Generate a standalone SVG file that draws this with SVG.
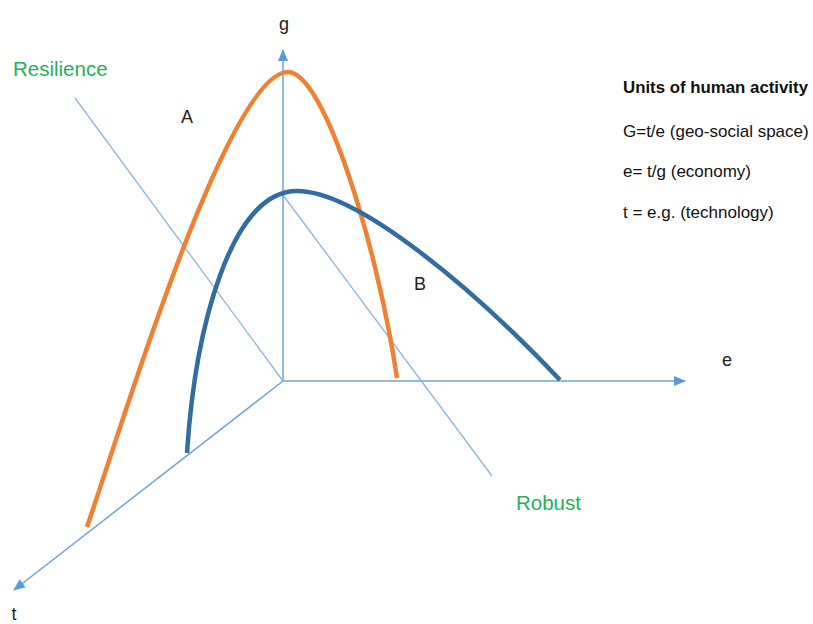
<svg xmlns="http://www.w3.org/2000/svg" width="813" height="624" viewBox="0 0 813 624">
<style>
.ax{stroke:#6fa3d8;stroke-width:1.5;fill:none}
.thin{stroke:#8db5e0;stroke-width:1.3;fill:none}
.lbl{font-family:"Liberation Sans",Arial,sans-serif;font-size:18px;fill:#222}
.grn{font-family:"Liberation Sans",Arial,sans-serif;font-size:20.5px;fill:#1fb25a}
.note{font-family:"Liberation Sans",Arial,sans-serif;font-size:17px;fill:#111}
.curveA{stroke:#ee8133;stroke-width:4.5;fill:none}
.curveB{stroke:#336ca3;stroke-width:4.5;fill:none}
</style>
<defs>
<marker id="arr" viewBox="0 0 12 10" refX="11" refY="5" markerWidth="12" markerHeight="10" markerUnits="userSpaceOnUse" orient="auto">
<path d="M0,0 L12,5 L0,10 Z" fill="#5b9bd5"/>
</marker>
</defs>
<g id="connectors">
<line class="ax" x1="283" y1="381" x2="283" y2="50" marker-end="url(#arr)"/>
<line class="ax" x1="283" y1="381" x2="685" y2="381" marker-end="url(#arr)"/>
<line class="ax" x1="283" y1="381" x2="14" y2="590" marker-end="url(#arr)"/>
<line class="thin" x1="75" y1="98" x2="283" y2="381"/>
<line class="thin" x1="283" y1="195" x2="492" y2="476"/>
</g>
<g id="curveA">
<path class="curveA" d="M87,527 C130,400 230,72 288,72 C325,72 378,250 397,378"/>
<text class="lbl" x="187" y="123" text-anchor="middle">A</text>
</g>
<g id="curveB">
<path class="curveB" d="M187,453 C195,330 230,191 297,191 C358,191 475,290 560,380"/>
<text class="lbl" x="420" y="290" text-anchor="middle">B</text>
</g>
<g id="axis-labels">
<text class="lbl" x="284" y="30" text-anchor="middle">g</text>
<text class="lbl" x="727" y="366" text-anchor="middle">e</text>
<text class="lbl" x="14" y="620" text-anchor="middle">t</text>
</g>
<g id="resilience"><text class="grn" x="13" y="76">Resilience</text></g>
<g id="robust"><text class="grn" x="516" y="510">Robust</text></g>
<g id="legend">
<text class="note" x="623" y="93" font-weight="bold" textLength="185" lengthAdjust="spacingAndGlyphs">Units of human activity</text>
<text class="note" x="623" y="137">G=t/e (geo-social space)</text>
<text class="note" x="623" y="177">e= t/g (economy)</text>
<text class="note" x="623" y="218">t = e.g. (technology)</text>
</g>
</svg>
